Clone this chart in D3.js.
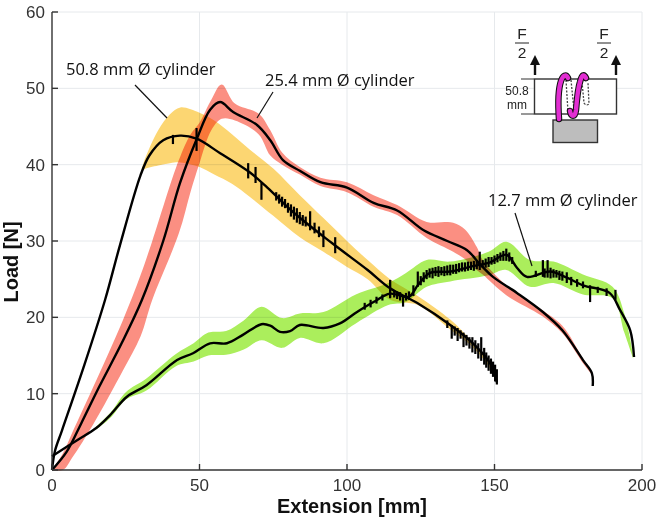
<!DOCTYPE html>
<html>
<head>
<meta charset="utf-8">
<title>load-extension</title>
<script src="https://cdn.jsdelivr.net/npm/d3@7"></script>
<style>
    html, body { margin: 0; padding: 0; background: #fff; }
    svg { display: block; }
    .band { mix-blend-mode: multiply; }
    .tick-label { font-family: "Liberation Sans", sans-serif; font-size: 17px; fill: #333; }
    .axis-title { font-family: "Liberation Sans", sans-serif; font-size: 20px; font-weight: bold; fill: #111; }
    .note { font-family: "Open Sans", sans-serif; font-size: 16.5px; fill: #111; }
    .inset-text { font-family: "Liberation Sans", sans-serif; fill: #222; }
</style>
</head>
<body>
<div id="app"></div>
<script>
const xTicks = [0, 50, 100, 150, 200];
const yTicks = [0, 10, 20, 30, 40, 50, 60];

// 50.8 mm cylinder
const bigX = [0, 1, 3.4, 11, 18, 23, 30, 33, 37.7, 43.4, 49, 57, 67, 73, 82, 95, 107, 114.6, 123.7, 135, 142.7, 148.5, 150.8];
const bigY = [0, 2.5, 5.2, 13.8, 22.3, 29.4, 38.6, 41.2, 43.2, 43.8, 43.4, 41.5, 39, 37, 33.7, 29.7, 26.2, 23.8, 21.9, 19, 16.6, 14, 11.5];
const bigBandX = [29.5, 31, 36, 40, 43.5, 50, 55, 61, 67, 75, 84, 92, 100, 107, 114.6, 124, 135, 142, 148, 151];
const bigBandHigh = [38, 40.2, 44.5, 46.6, 47.5, 46.8, 45.8, 44, 42, 39.5, 36, 33, 30, 27.5, 25, 22.8, 19.7, 17, 14.4, 11.8];
const bigBandLow = [38, 39.3, 39.9, 40.2, 40.3, 39.7, 38.7, 37.5, 35.8, 33.3, 30.5, 28.6, 26.6, 25, 22.3, 21.6, 18.4, 16.3, 13.6, 11.2];
// x, top, bottom of each noise spike
const bigSpikes = [
    [41, 43.9, 42.7], [49, 44.8, 41.8], [66.5, 40.2, 38.2], [69, 39.7, 37.6], [71, 37.6, 35.4],
    [76, 36.4, 35.3], [77, 36.1, 34.9], [78, 35.8, 34.5], [79, 35.5, 34.3], [80, 35, 33.7], [81, 34.8, 33.2], [82, 34.5, 32.8], [83, 34.3, 32.4], [84, 33.8, 32.2], [85, 33.4, 32],
    [86, 33.2, 31.9], [87.5, 33.9, 31.4], [89, 32.4, 31], [90.5, 31.9, 30.5], [92, 31.4, 29.2], [96, 30.5, 28.4],
    [114.6, 24.9, 22.6], [134, 19.6, 18.6], [135.5, 19, 17.2], [136.5, 18.8, 17.6], [137.5, 18.6, 16.9], [138.5, 18.3, 17.2], [139.5, 18, 16.1], [140.5, 17.7, 16.3], [141.5, 17.4, 15.9], [142.5, 17.4, 15.4], [143.5, 17, 15.2], [144.5, 16.6, 14.6], [145.5, 17.4, 14.3], [146.5, 16, 13.8],
    [147.2, 15.4, 13.4], [148, 15, 13], [148.8, 14.6, 12.6], [149.5, 14.2, 12.2], [150.2, 13.8, 11.6], [150.8, 13.2, 11.2]
];

// 25.4 mm cylinder
const midX = [0, 5, 9.9, 16, 23.6, 30.5, 37.7, 43.4, 49, 53.6, 57, 61.4, 69.5, 74, 78.3, 84, 91, 100, 109, 117, 126, 134, 140.7, 145, 149.5, 157.6, 166.4, 173, 180, 183, 183.3];
const midY = [0, 2.4, 6.1, 10.9, 16.6, 22.3, 30, 37.6, 43.3, 47.2, 48.2, 46.9, 45.2, 43.2, 40.6, 39.2, 37.7, 37, 35, 34, 31.4, 30, 28.8, 27, 25.3, 23.2, 20.7, 18.3, 14.4, 12.7, 11];
const midBandX = [0, 3.7, 7, 14, 24, 30, 34, 43, 47, 50, 54, 57.5, 62, 70, 74, 78, 84, 91, 100, 109, 117, 127, 136, 140, 144, 146, 154, 166, 173, 180, 183];
const midBandHigh = [0, 2.2, 5, 10.9, 19.6, 25.5, 30, 40.6, 44, 45.5, 48.5, 50.5, 48, 46.7, 44.5, 41.6, 39.7, 38.3, 37.7, 36, 34.7, 32.5, 32.4, 31.5, 29.2, 27.5, 24.2, 21, 18.9, 14.6, 12.8];
const midBandLow = [0, 0, 1.7, 6, 13, 17.5, 22.3, 31, 36.5, 40.2, 44.5, 46, 45.8, 44, 41.2, 40, 38.7, 37.2, 36.4, 34.5, 33.4, 30.4, 28.6, 27.6, 26.2, 25.6, 22.9, 20.2, 17.9, 14, 12.5];

// 12.7 mm cylinder
const smallX = [0, 8.5, 15, 19.7, 25.4, 32, 42.4, 47.8, 53.6, 59.3, 64.7, 71, 74, 77.3, 80.7, 84, 92, 97.6, 103.4, 109, 114.6, 121, 124, 128, 135, 142.7, 148.5, 154, 157.6, 161, 168.8, 174.5, 180, 189, 192.5, 196, 197.3];
const smallY = [1.8, 3.9, 5.5, 7.2, 9.6, 11.1, 14.4, 15.3, 16.6, 16.6, 17.7, 19.1, 18.9, 18.1, 18.2, 19, 18.6, 19.2, 20.7, 22, 23.1, 22.7, 24.2, 25.8, 26, 26.7, 27.2, 28.2, 26.5, 25.3, 26, 25.2, 24.2, 23.2, 21, 18.3, 14.8];
const smallBandX = [15, 20, 25, 32, 42, 48, 53, 59, 65, 71, 78, 84, 92, 103, 114, 120, 127, 135, 148, 154, 162, 170, 180, 190, 194, 197];
const smallBandHigh = [5.7, 7.6, 10.2, 12, 15.2, 16.6, 18, 18.2, 19.6, 21.4, 19.9, 20.5, 20.7, 23, 24.5, 25.8, 27.5, 27.3, 28.6, 29.9, 27.5, 27.3, 25.6, 24, 20.5, 15];
const smallBandLow = [5.3, 6.9, 9.2, 10.4, 13.6, 14.2, 15, 15.1, 15.8, 17, 16, 17.3, 16.6, 19.2, 21.6, 22, 24, 24.7, 25.5, 26.2, 24, 24.5, 23, 22.5, 18, 14.6];
const smallSpikes = [
    [106, 21.9, 21], [108, 22.3, 21.3], [110, 22.7, 21.8], [112, 23, 22.2], [114.6, 24.9, 22.5], [116, 23.5, 22.6], [117, 23.4, 22.4], [118, 23.3, 22.2], [119, 22.9, 21.4], [120, 23.2, 22.2], [121, 23.4, 22.3], [122.5, 24.2, 22.8],
    [124, 26, 24], [125, 25.4, 24.2], [126, 25.9, 24.6], [127, 26.2, 25], [128, 26.4, 25.2], [129, 26.5, 25.1], [130, 26.6, 25.4], [131, 26.7, 25.3], [132, 26.6, 25.5], [133, 26.7, 25.4], [134, 26.8, 25.5], [135, 26.9, 25.5], [136, 26.9, 25.7], [137, 27, 25.7], [138, 27.1, 25.9],
    [139, 27.2, 26], [140, 27.2, 26], [141, 27.3, 26.1], [142, 27.3, 26.2], [143, 27.4, 26.1], [144, 27.4, 26.3], [145, 28.6, 26.2], [146, 27.5, 26.5], [147, 27.7, 26.5], [148, 27.9, 26.6], [149, 27.9, 26.9], [150, 28.1, 27], [151, 28.3, 27.2], [152, 28.5, 27.4], [153, 28.7, 27.4], [154, 29, 27.4], [155, 28.5, 27.3], [156, 27.9, 27],
    [164, 26.1, 25.3], [166.4, 27.5, 25.3], [167, 26.4, 25.2], [168, 27.5, 25.2], [169, 26.5, 25.1], [170, 26.3, 25.2], [171, 26.2, 25.2], [172, 26.1, 24.9], [173, 26, 24.8], [174.5, 25.9, 24.5], [176, 25.3, 24.2], [178, 25, 24], [180, 24.7, 23.8], [182.4, 24.2, 22], [185, 24, 23.2], [188, 23.8, 22.8], [191, 23.6, 22.3]
];

const svg = d3.select('#app').append('svg').attr('width', 660).attr('height', 519);

const x = d3.scaleLinear().domain([0, 200]).range([52, 642]);
const y = d3.scaleLinear().domain([0, 60]).range([470, 12]);

///grid
const grid = svg.append('g').attr('stroke', '#e6e9ec').attr('stroke-width', 1);
grid.selectAll('line.v').data(xTicks.slice(1)).enter().append('line')
    .attr('x1', d => x(d)).attr('x2', d => x(d)).attr('y1', y(60)).attr('y2', y(0));
grid.selectAll('line.h').data(yTicks.slice(1)).enter().append('line')
    .attr('x1', x(0)).attr('x2', x(200)).attr('y1', d => y(d)).attr('y2', d => y(d));

///bands
function drawBand(xs, high, low, color) {
    const area = d3.area()
        .x((d, i) => x(xs[i]))
        .y0((d, i) => y(low[i]))
        .y1((d, i) => y(high[i]))
        .curve(d3.curveCatmullRom.alpha(0.5));
    svg.append('path').attr('class', 'band').attr('d', area(xs)).attr('fill', color);
}
drawBand(bigBandX, bigBandHigh, bigBandLow, '#fcd672');
drawBand(midBandX, midBandHigh, midBandLow, '#fb8f82');
drawBand(smallBandX, smallBandHigh, smallBandLow, '#abee5c');

///mean lines
function drawMean(xs, ys, spikes) {
    const line = d3.line().x((d, i) => x(xs[i])).y((d, i) => y(ys[i])).curve(d3.curveCatmullRom.alpha(0.5));
    svg.append('path').attr('d', line(xs)).attr('fill', 'none').attr('stroke', '#000')
        .attr('stroke-width', 2.4).attr('stroke-linejoin', 'round');
    svg.append('g').selectAll('line').data(spikes).enter().append('line')
        .attr('x1', d => x(d[0])).attr('x2', d => x(d[0]))
        .attr('y1', d => y(d[1])).attr('y2', d => y(d[2]))
        .attr('stroke', '#000').attr('stroke-width', 2.2);
}
drawMean(bigX, bigY, bigSpikes);
drawMean(midX, midY, []);
drawMean(smallX, smallY, smallSpikes);

///axes
const axisG = svg.append('g').attr('stroke', '#333').attr('stroke-width', 1.4);
axisG.append('line').attr('x1', x(0)).attr('x2', x(0)).attr('y1', y(60)).attr('y2', y(0));
axisG.append('line').attr('x1', x(0)).attr('x2', x(200)).attr('y1', y(0)).attr('y2', y(0));
axisG.selectAll('line.xt').data(xTicks).enter().append('line')
    .attr('x1', d => x(d)).attr('x2', d => x(d)).attr('y1', y(0)).attr('y2', y(0) - 6);
axisG.selectAll('line.yt').data(yTicks).enter().append('line')
    .attr('x1', x(0)).attr('x2', x(0) + 6).attr('y1', d => y(d)).attr('y2', d => y(d));

svg.selectAll('text.xl').data(xTicks).enter().append('text')
    .attr('class', 'tick-label').attr('text-anchor', 'middle')
    .attr('x', d => x(d)).attr('y', 491).text(d => d);
svg.selectAll('text.yl').data(yTicks).enter().append('text')
    .attr('class', 'tick-label').attr('text-anchor', 'end')
    .attr('x', 45).attr('y', d => y(d) + 6).text(d => d);

svg.append('text').attr('class', 'axis-title').attr('text-anchor', 'middle')
    .attr('x', 352).attr('y', 513).text('Extension [mm]');
svg.append('text').attr('class', 'axis-title').attr('text-anchor', 'middle')
    .attr('transform', 'translate(18,262) rotate(-90)').text('Load [N]');

///labels
svg.append('text').attr('class', 'note').attr('x', 66).attr('y', 75).text('50.8 mm Ø cylinder');
svg.append('text').attr('class', 'note').attr('x', 265).attr('y', 86).text('25.4 mm Ø cylinder');
svg.append('text').attr('class', 'note').attr('x', 488).attr('y', 206).text('12.7 mm Ø cylinder');
const leaders = [[135, 85, 167, 118], [273, 92, 257, 118], [515, 213, 532, 266]];
svg.append('g').selectAll('line').data(leaders).enter().append('line')
    .attr('x1', d => d[0]).attr('y1', d => d[1]).attr('x2', d => d[2]).attr('y2', d => d[3])
    .attr('stroke', '#111').attr('stroke-width', 1.2);

///inset sketch
const inset = svg.append('g').attr('stroke', '#333').attr('fill', 'none');
inset.append('rect').attr('x', 534.5).attr('y', 79).attr('width', 82).attr('height', 35).attr('fill', '#fff').attr('stroke-width', 1.4);
inset.append('rect').attr('x', 553).attr('y', 120).attr('width', 44.5).attr('height', 22.5).attr('fill', '#bdbdbd').attr('stroke-width', 1.4);
inset.append('path').attr('d', 'M521,79H534M521,114H534').attr('stroke-width', 1.2);
['M566,80 L568,112', 'M571,80 L574,110', 'M582,82 L584,103 Q586,106 589,104 L588,83']
    .forEach(d => inset.append('path').attr('d', d).attr('stroke', '#444').attr('stroke-width', 1.3).attr('stroke-dasharray', '2 1.5'));
const coils = ['M559,119 C558,105 558,90 561,81 C563,75 566,74 568,78', 'M570,111 C571,117 575,118 576,110 C577,98 578,88 580,82 C582,74 584,74 586,78'];
coils.forEach(d => inset.append('path').attr('d', d).attr('stroke', '#111').attr('stroke-width', 6.5).attr('stroke-linecap', 'round'));
coils.forEach(d => inset.append('path').attr('d', d).attr('stroke', '#e22ed2').attr('stroke-width', 4.4).attr('stroke-linecap', 'round'));

[[535, 522], [616, 604]].forEach(pair => {
    const ax = pair[0], fx = pair[1];
    inset.append('path').attr('d', `M${ax},75V62`).attr('stroke', '#111').attr('stroke-width', 2.4);
    inset.append('path').attr('d', `M${ax - 5},65L${ax},55L${ax + 5},65Z`).attr('fill', '#111').attr('stroke', 'none');
    inset.append('path').attr('d', `M${fx - 7},43H${fx + 7}`).attr('stroke', '#222').attr('stroke-width', 1);
    svg.append('text').attr('class', 'inset-text').attr('font-size', 15.5).attr('text-anchor', 'middle').attr('x', fx).attr('y', 39).text('F');
    svg.append('text').attr('class', 'inset-text').attr('font-size', 15.5).attr('text-anchor', 'middle').attr('x', fx).attr('y', 57.5).text('2');
});
svg.append('text').attr('class', 'inset-text').attr('font-size', 12).attr('text-anchor', 'middle').attr('x', 517).attr('y', 95).text('50.8');
svg.append('text').attr('class', 'inset-text').attr('font-size', 12).attr('text-anchor', 'middle').attr('x', 517).attr('y', 109).text('mm');
</script>
</body>
</html>
